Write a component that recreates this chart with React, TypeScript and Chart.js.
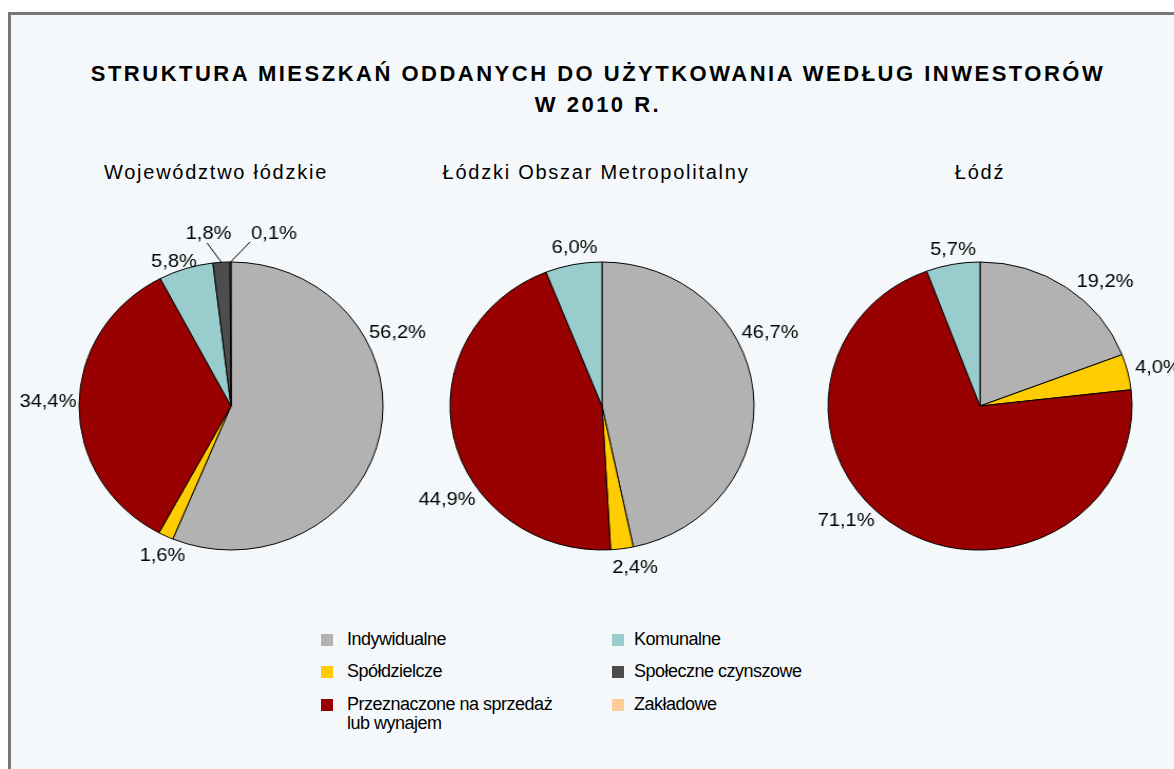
import React, { useEffect, useRef } from "react";
import { Chart, registerables } from "chart.js";

Chart.register(...registerables);

// ---------- data ----------
const categories = [
  "Indywidualne",
  "Spółdzielcze",
  "Przeznaczone na sprzedaż lub wynajem",
  "Komunalne",
  "Społeczne czynszowe",
  "Zakładowe",
];
const sliceColors = ["#B2B2B2", "#FFCC00", "#990000", "#99CCCC", "#4D4D4D", "#FFCC99"];
const regionNames = ["Województwo łódzkie", "Łódzki Obszar Metropolitalny", "Łódź"];
const wojewodztwoValues = [56.2, 1.6, 34.4, 5.8, 1.8, 0.1];
const obszarValues = [46.7, 2.4, 44.9, 6.0, 0, 0];
const lodzValues = [19.2, 4.0, 71.1, 5.7, 0, 0];
const titleLines = [
  "STRUKTURA MIESZKAŃ ODDANYCH DO UŻYTKOWANIA WEDŁUG INWESTORÓW",
  "W 2010 R.",
];

// ---------- layout ----------
const FONT = '"Liberation Sans", Arial, Helvetica, sans-serif';
const CANVAS_W = 432;
const CANVAS_H = 440;
const STRETCH = 19 / 18; // original picture is slightly wider than tall
const DISPLAY_W = CANVAS_W * STRETCH;
const PIE_R = 144;
const PIE_CY = 406;

type Vec = [number, number];
type PieCfg = {
  title: string;
  values: number[];
  centerX: number;
  titleX: number;
  labelOffsets: (Vec | null)[];
  leaders: Record<number, Vec>;
};

const pies: PieCfg[] = [
  {
    title: regionNames[0],
    values: wojewodztwoValues,
    centerX: 231,
    titleX: 216,
    labelOffsets: [[157.7, -73], [-64.9, 150], [-173.4, -4], [-54, -144], [-21.3, -172], [40.7, -172]],
    leaders: { 4: [-22.7, -163], 5: [18, -164] },
  },
  {
    title: regionNames[1],
    values: obszarValues,
    centerX: 602,
    titleX: 596,
    labelOffsets: [[159.2, -73], [31.3, 162], [-146.8, 94], [-26, -158], null, null],
    leaders: {},
  },
  {
    title: regionNames[2],
    values: lodzValues,
    centerX: 980,
    titleX: 980,
    labelOffsets: [[118.4, -124], [168.6, -38], [-126.9, 115], [-25.6, -156], null, null],
    leaders: {},
  },
];

const fmt = (v: number) => v.toFixed(1).replace(".", ",") + "%";

function makeLabelPlugin(cfg: PieCfg) {
  return {
    id: "pieLabels",
    afterDatasetsDraw(chart: any) {
      const ctx = chart.ctx as CanvasRenderingContext2D;
      const meta = chart.getDatasetMeta(0);
      const data = chart.data.datasets[0].data as number[];
      ctx.save();
      ctx.font = `19px ${FONT}`;
      ctx.fillStyle = "#000";
      ctx.textAlign = "center";
      ctx.textBaseline = "middle";
      meta.data.forEach((arc: any, i: number) => {
        const v = data[i];
        const off = cfg.labelOffsets[i];
        if (!v || !off) return;
        const p = arc.getProps(["x", "y", "startAngle", "endAngle", "outerRadius"], true);
        const lead = cfg.leaders[i];
        if (lead) {
          const mid = (p.startAngle + p.endAngle) / 2;
          ctx.beginPath();
          ctx.moveTo(p.x + lead[0], p.y + lead[1]);
          ctx.lineTo(p.x + Math.cos(mid) * p.outerRadius, p.y + Math.sin(mid) * p.outerRadius);
          ctx.strokeStyle = "#000";
          ctx.lineWidth = 1;
          ctx.stroke();
        }
        ctx.fillText(fmt(v), p.x + off[0], p.y + off[1]);
      });
      ctx.restore();
    },
  };
}

function Pie({ cfg }: { cfg: PieCfg }) {
  const ref = useRef<HTMLCanvasElement | null>(null);
  useEffect(() => {
    if (!ref.current) return;
    const chart = new Chart(ref.current, {
      type: "pie",
      data: {
        labels: categories,
        datasets: [
          {
            data: cfg.values,
            backgroundColor: sliceColors,
            borderColor: "#000",
            borderWidth: 1,
            radius: PIE_R,
          } as any,
        ],
      },
      options: {
        responsive: false,
        animation: false,
        events: [],
        layout: { padding: 0 },
        plugins: {
          legend: { display: false },
          tooltip: { enabled: false },
          title: { display: false },
        },
      },
      plugins: [makeLabelPlugin(cfg)],
    });
    return () => chart.destroy();
  }, [cfg]);
  return (
    <canvas
      ref={ref}
      width={CANVAS_W}
      height={CANVAS_H}
      style={{
        position: "absolute",
        left: cfg.centerX - DISPLAY_W / 2,
        top: PIE_CY - CANVAS_H / 2,
        width: DISPLAY_W,
        height: CANVAS_H,
      }}
    />
  );
}

const legendColumns = [
  { squareX: 321, textX: 347, items: [0, 1, 2] },
  { squareX: 612, textX: 634, items: [3, 4, 5] },
];
const legendRowsY = [640, 672, 705];

export default function App() {
  return (
    <div
      style={{
        position: "fixed",
        left: 0,
        top: 0,
        width: 1174,
        height: 769,
        overflow: "hidden",
        background: "#fff",
        fontFamily: FONT,
        color: "#000",
      }}
    >
      <div
        style={{
          position: "absolute",
          left: 8,
          top: 12,
          width: 1200,
          height: 800,
          borderLeft: "3px solid #777",
          borderTop: "3px solid #777",
          background: "#F5F8FA",
        }}
      />
      <div
        style={{
          position: "absolute",
          left: 0,
          width: 1196,
          top: 57.5,
          textAlign: "center",
          fontWeight: "bold",
          fontSize: 22,
          lineHeight: "31px",
          letterSpacing: "2.5px",
          whiteSpace: "nowrap",
        }}
      >
        {titleLines.map((t) => (
          <div key={t}>{t}</div>
        ))}
      </div>
      {pies.map((p) => (
        <div
          key={p.title}
          style={{
            position: "absolute",
            left: p.titleX - 200,
            width: 400,
            top: 160,
            lineHeight: "24px",
            textAlign: "center",
            fontSize: 20,
            letterSpacing: "1.75px",
            whiteSpace: "nowrap",
          }}
        >
          {p.title}
        </div>
      ))}
      {pies.map((p) => (
        <Pie key={p.title + "-pie"} cfg={p} />
      ))}
      {legendColumns.map((col) =>
        col.items.map((idx, row) => (
          <React.Fragment key={categories[idx]}>
            <div
              style={{
                position: "absolute",
                left: col.squareX,
                top: legendRowsY[row] - 6,
                width: 12,
                height: 12,
                background: sliceColors[idx],
              }}
            />
            <div
              style={{
                position: "absolute",
                left: col.textX,
                top: legendRowsY[row] - 10,
                width: 215,
                fontSize: 18,
                lineHeight: "19px",
                letterSpacing: "-0.5px",
              }}
            >
              {categories[idx]}
            </div>
          </React.Fragment>
        ))
      )}
    </div>
  );
}
